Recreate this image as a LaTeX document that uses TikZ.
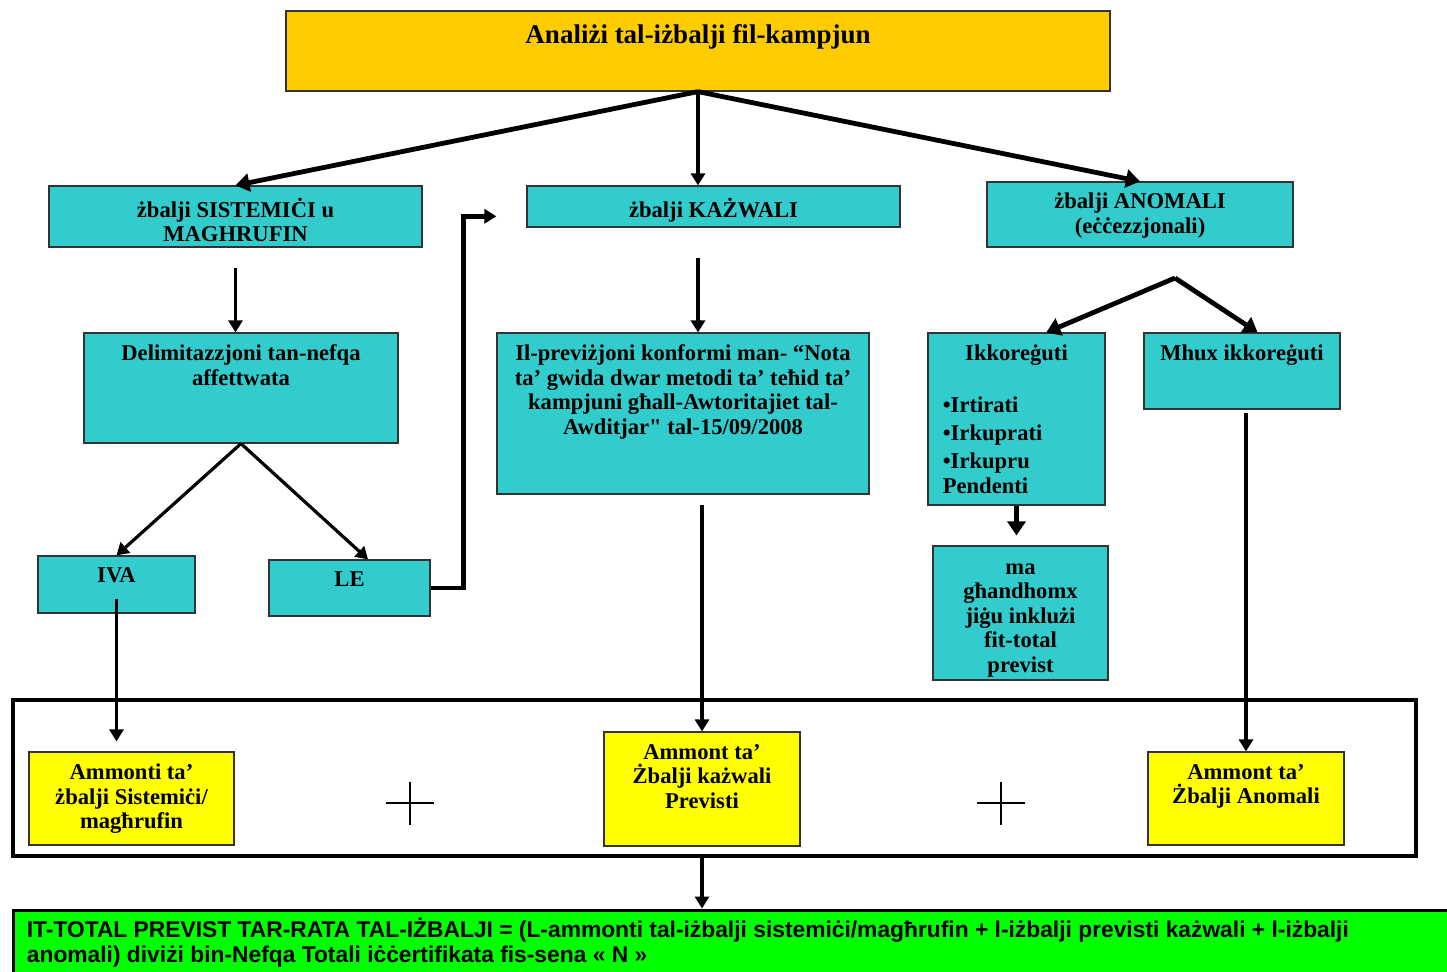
\documentclass[tikz,border=0pt]{standalone}
\usepackage{fontspec}
\setmainfont{Liberation Serif}[Ligatures=TeXOff]
\newfontfamily\arialfont{Liberation Sans}
\usetikzlibrary{positioning,arrows.meta}
\definecolor{boxcyan}{HTML}{33CCCC}
\definecolor{titlegold}{HTML}{FFCC00}
\definecolor{sumyellow}{HTML}{FFFF00}
\definecolor{totalgreen}{HTML}{00FF00}

\begin{document}
\begin{tikzpicture}[x=0.5pt,y=-0.5pt]
  \tikzstyle{box}=[rectangle, draw=black!80, fill=boxcyan, line width=0.6pt, inner sep=0pt]
  \tikzstyle{sumbox}=[box, fill=sumyellow]
  \tikzstyle{txt}=[align=center, inner sep=0pt, font=\fontsize{11.3}{12.25}\selectfont\bfseries]
  \tikzstyle{arr}=[-{Triangle[length=6pt,width=7pt]}, line width=1.6pt]
  \tikzstyle{heavy}=[line width=2.4pt, -{Triangle[length=7pt,width=9pt]}]
  \useasboundingbox (0,0) rectangle (1447,971);

  \node[box, fill=titlegold, minimum width=412pt, minimum height=40pt] (analysis) at (698,51) {};
  \node[txt, font=\fontsize{13.5}{15}\selectfont\bfseries, below=6.9pt of analysis.north] (analysisT) {Analiżi tal-iżbalji fil-kampjun};

  \node[box, minimum width=186.5pt, minimum height=30.5pt] (sist) at (235.5,216.5) {};
  \node[txt, below=6.1pt of sist.north] (sistT) {żbalji SISTEMIĊI u\\MAGHRUFIN};
  \node[box, minimum width=186.5pt, minimum height=20.5pt] (kaz) at (713.5,206.5) {};
  \node[txt, below=6.1pt of kaz.north] (kazT) {żbalji KAŻWALI};
  \node[box, minimum width=153pt, minimum height=32.5pt] (anom) at (1140,214.5) {};
  \node[txt, below=5.6pt of anom.north] (anomT) {żbalji ANOMALI\\(eċċezzjonali)};

  \node[box, minimum width=157pt, minimum height=55pt] (delim) at (241,388) {};
  \node[txt, below=6.1pt of delim.north] (delimT) {Delimitazzjoni tan-nefqa\\affettwata};
  \node[box, minimum width=186pt, minimum height=80.5pt] (ilprev) at (683,413.5) {};
  \node[txt, below=6.1pt of ilprev.north] (ilprevT) {Il-previżjoni konformi man- “Nota\\ta’ gwida dwar metodi ta’ teħid ta’\\kampjuni għall-Awtoritajiet tal-\\Awditjar" tal-15/09/2008};
  \node[box, minimum width=88.5pt, minimum height=86pt] (ikkor) at (1016.5,419) {};
  \node[txt, below=6.1pt of ikkor.north] (ikkorT) {Ikkoreġuti};
  \node[txt, align=left, below right=32pt and 7.5pt of ikkor.north west] (ikkorL) {•Irtirati\\[1.8pt]•Irkuprati\\[1.8pt]•Irkupru\\Pendenti};
  \node[box, minimum width=98pt, minimum height=38pt] (mhux) at (1242,371) {};
  \node[txt, below=6.1pt of mhux.north] (mhuxT) {Mhux ikkoreġuti};
  \node[box, minimum width=87.5pt, minimum height=67pt] (ma) at (1020.5,613) {};
  \node[txt, below=8.8pt of ma.north] (maT) {ma\\għandhomx\\jiġu inklużi\\fit-total\\previst};

  \node[box, minimum width=78.5pt, minimum height=28.5pt] (iva) at (116.5,584.5) {};
  \node[txt, below=6.1pt of iva.north] (ivaT) {IVA};
  \node[box, minimum width=80.5pt, minimum height=28pt] (le) at (349.5,588) {};
  \node[txt, below=6.1pt of le.north] (leT) {LE};

  \node[draw, line width=2pt, minimum width=701.5pt, minimum height=78pt] (frame) at (714.5,778) {};
  \node[sumbox, minimum width=102.5pt, minimum height=46.5pt] (yb1) at (131.5,798.5) {};
  \node[txt, below=6.1pt of yb1.north] (yb1T) {Ammonti ta’\\żbalji Sistemiċi/\\magħrufin};
  \node[sumbox, minimum width=98pt, minimum height=57pt] (yb2) at (702,789) {};
  \node[txt, below=6.1pt of yb2.north] (yb2T) {Ammont ta’\\Żbalji każwali\\Previsti};
  \node[sumbox, minimum width=98pt, minimum height=46.5pt] (yb3) at (1246,798.5) {};
  \node[txt, below=6.1pt of yb3.north] (yb3T) {Ammont ta’\\Żbalji Anomali};

  % the plus signs between the amounts
  \draw[line width=0.6pt] (386,803) -- (434,803) (410,782) -- (410,825);
  \draw[line width=0.6pt] (977,803) -- (1025,803) (1001,782) -- (1001,825);

  \node[draw, line width=1.5pt, fill=totalgreen, inner sep=0pt, minimum width=733.5pt, minimum height=45pt] (total) at (746.5,955) {};
  \node[txt, align=left, font=\arialfont\fontsize{11.4}{12.5}\selectfont\bfseries, below right=4.6pt and 7.5pt of total.north west] (totalT) {IT-TOTAL PREVIST TAR-RATA TAL-IŻBALJI = (L-ammonti tal-iżbalji sistemiċi/magħrufin + l-iżbalji previsti każwali + l-iżbalji\\anomali) diviżi bin-Nefqa Totali iċċertifikata fis-sena « N »};

  \draw[heavy] (analysis.south) -- (sist.north);
  \draw[arr] (analysis.south) -- (analysis.south |- kaz.north);
  \draw[heavy] (analysis.south) -- (anom.north);

  \draw[arr, shorten <=10pt] (sist.south) -- (sist.south |- delim.north);
  \draw[arr, shorten <=15pt] (analysis.south |- kaz.south) -- (analysis.south |- ilprev.north);
  \coordinate (split) at (1175,278);
  \draw[heavy] (split) -- (ikkor.71);
  \draw[heavy] (split) -- (mhux.68);

  \draw[arr] (delim.south) -- (iva.north);
  \draw[arr] (delim.south) -- (le.57);
  \draw[arr, line width=2.2pt, shorten >=15pt] (le.east) -- ++(33,0) |- (kaz.183);

  \draw[arr, shorten <=7pt, shorten >=5pt] (iva.center) -- (iva.center |- yb1.north);
  \draw[arr, shorten <=5pt] (yb2.north |- ilprev.south) -- (yb2.north);
  \draw[arr, shorten <=1.5pt] (yb3.north |- mhux.south) -- (yb3.north);
  \draw[heavy, shorten >=5pt] (ikkor.south) -- (ikkor.south |- ma.north);
  \draw[arr] (frame.south -| yb2.north) -- (total.north -| yb2.north);
\end{tikzpicture}
\end{document}
